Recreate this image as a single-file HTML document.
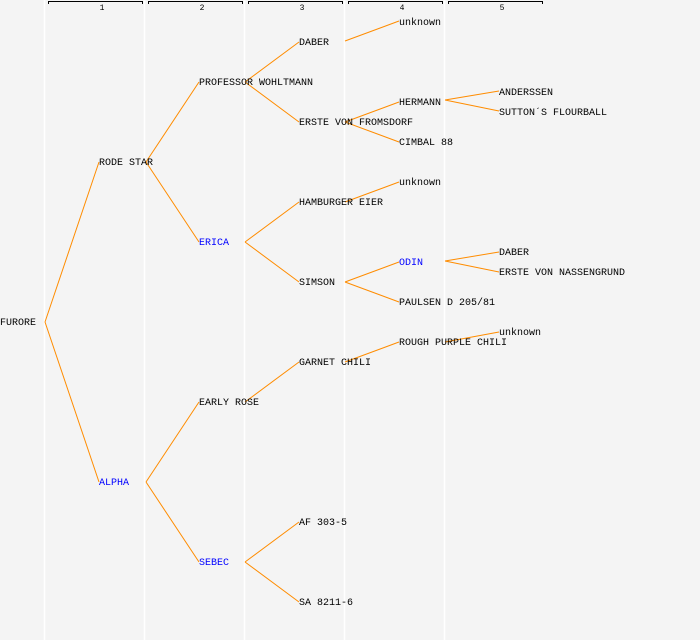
<!DOCTYPE html>
<html><head><meta charset="utf-8"><style>
html,body{margin:0;padding:0;background:#f4f4f4;}
svg{display:block;}
text{font-family:"Liberation Mono","DejaVu Sans Mono",monospace;font-size:10px;fill:#000;}
.b{fill:#0000ff;}
</style></head><body>
<svg width="700" height="640" xmlns="http://www.w3.org/2000/svg">
<rect width="700" height="640" fill="#f4f4f4"/>
<g stroke="#ffffff" stroke-width="1.5">
<line x1="44.5" y1="0" x2="44.5" y2="640"/>
<line x1="144.5" y1="0" x2="144.5" y2="640"/>
<line x1="244.5" y1="0" x2="244.5" y2="640"/>
<line x1="344.5" y1="0" x2="344.5" y2="640"/>
<line x1="444.5" y1="0" x2="444.5" y2="640"/>
</g>
<g stroke="#000" stroke-width="1" fill="none">
<path d="M48.5 4V1.5H142.5V4"/>
<path d="M148.5 4V1.5H242.5V4"/>
<path d="M248.5 4V1.5H342.5V4"/>
<path d="M348.5 4V1.5H442.5V4"/>
<path d="M448.5 4V1.5H542.5V4"/>
</g>
<g text-anchor="middle">
<text x="102" y="10" style="font-size:8px">1</text>
<text x="202" y="10" style="font-size:8px">2</text>
<text x="302" y="10" style="font-size:8px">3</text>
<text x="402" y="10" style="font-size:8px">4</text>
<text x="502" y="10" style="font-size:8px">5</text>
</g>
<g stroke="#ff8c00" stroke-width="1" fill="none">
<path d="M45 322L99 162M45 322L99 482"/>
<path d="M146 162L199 82M146 162L199 242"/>
<path d="M146 482L199 402M146 482L199 562"/>
<path d="M245 82L299 42M245 82L299 122"/>
<path d="M245 242L299 202M245 242L299 282"/>
<path d="M245 402L299 362"/>
<path d="M245 562L299 522M245 562L299 602"/>
<path d="M345 41L399 21"/>
<path d="M345 122L399 102M345 122L399 142"/>
<path d="M345 202L399 182"/>
<path d="M345 282L399 262M345 282L399 302"/>
<path d="M345 362L399 342"/>
<path d="M445 100L499 91M445 100L499 111"/>
<path d="M445 261L499 252M445 261L499 272"/>
<path d="M445 342L499 332"/>
</g>
<text x="0" y="325">FURORE</text>
<text x="99" y="165">RODE STAR</text>
<text x="99" y="485" class="b">ALPHA</text>
<text x="199" y="85">PROFESSOR WOHLTMANN</text>
<text x="199" y="245" class="b">ERICA</text>
<text x="199" y="405">EARLY ROSE</text>
<text x="199" y="565" class="b">SEBEC</text>
<text x="299" y="45">DABER</text>
<text x="299" y="125">ERSTE VON FROMSDORF</text>
<text x="299" y="205">HAMBURGER EIER</text>
<text x="299" y="285">SIMSON</text>
<text x="299" y="365">GARNET CHILI</text>
<text x="299" y="525">AF 303-5</text>
<text x="299" y="605">SA 8211-6</text>
<text x="399" y="25">unknown</text>
<text x="399" y="105">HERMANN</text>
<text x="399" y="145">CIMBAL 88</text>
<text x="399" y="185">unknown</text>
<text x="399" y="265" class="b">ODIN</text>
<text x="399" y="305">PAULSEN D 205/81</text>
<text x="399" y="345">ROUGH PURPLE CHILI</text>
<text x="499" y="95">ANDERSSEN</text>
<text x="499" y="115">SUTTON´S FLOURBALL</text>
<text x="499" y="255">DABER</text>
<text x="499" y="275">ERSTE VON NASSENGRUND</text>
<text x="499" y="335">unknown</text>
</svg>
</body></html>
